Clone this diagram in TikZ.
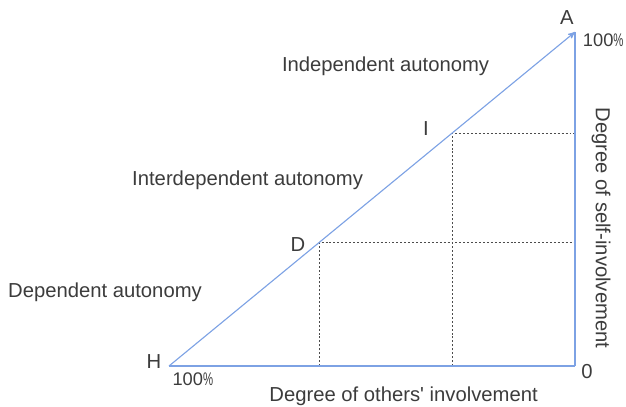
\documentclass[tikz,border=0pt]{standalone}
\usepackage{fontspec}
\setmainfont{Liberation Sans}
\usetikzlibrary{%
  arrows,%
  positioning,%
  calc%
}
\definecolor{axisblue}{RGB}{125,162,228}
\definecolor{labelgray}{RGB}{60,60,60}
% narrow percent sign for the axis ends
\newcommand{\pct}{\scalebox{0.62}[1]{\%}}

\begin{document}
\begin{tikzpicture}
  [
  font=\fontsize{14.4}{17}\selectfont,
  line width=0.8pt, >=stealth',
  axis/.style={draw=axisblue},
  guide/.style={draw=black!70, line width=0.6pt, dash pattern=on 1.4pt off 1.4pt},
  txt/.style={text=labelgray, inner sep=0pt},
  tick/.style={txt, anchor=west, font=\fontsize{13}{15}\selectfont},
  ]
  \useasboundingbox (0,0) rectangle (15.65,10.15);

  % corners of the triangle
  \coordinate (H) at (4.225,1);
  \coordinate (A) at (14.375,9.35);
  \coordinate (O) at (A |- H);
  % points on the hypotenuse
  \coordinate (D) at ($(H)!0.37!(A)$);
  \coordinate (I) at ($(H)!0.697!(A)$);
  \coordinate (Dx) at (D |- O);
  \coordinate (Dy) at (D -| O);
  \coordinate (Ix) at (I |- O);
  \coordinate (Iy) at (I -| O);

  \draw[guide] (Dx) -- (D) -- (Dy);
  \draw[guide] (Ix) -- (I) -- (Iy);

  \draw[axis,->] (H) -- (A);
  \draw[axis] (A) -- (O);
  \draw[axis] (H) -- (O);

  \node[txt] (lA) at (14.17,9.7) {A};
  \node[tick] (lAmax) at (14.56,9.15) {100\pct};
  \node[txt] (lH) at (3.85,1.1) {H};
  \node[tick] (lHmax) at (4.3,0.675) {100\pct};
  \node[txt] (lO) at (14.675,0.85) {0};
  \node[txt] (lD) at (7.45,4.025) {D};
  \node[txt] (lI) at (10.65,6.925) {I};

  \node[txt] (indep) at (9.64,8.5) {Independent autonomy};
  \node[txt] (interdep) at (6.19,5.65) {Interdependent autonomy};
  \node[txt] (dep) at (2.625,2.85) {Dependent autonomy};

  \node[txt] (xlabel) at (10.09,0.25) {Degree of others\textquotesingle\ involvement};
  \node[txt, rotate=-90] (ylabel) at (15.025,4.45) {Degree of self-involvement};

\end{tikzpicture}
\end{document}
